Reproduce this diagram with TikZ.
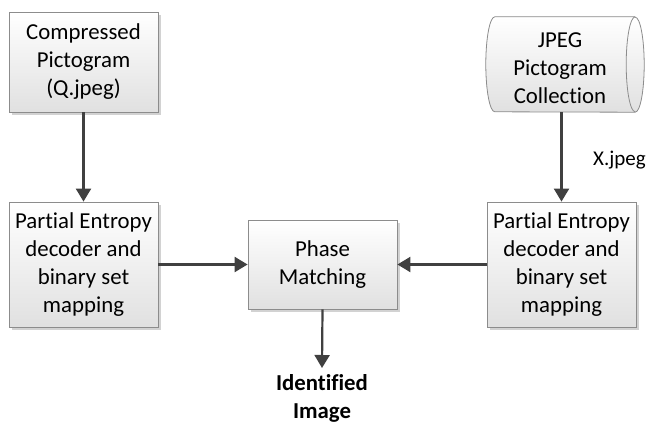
\documentclass[tikz,border=0pt]{standalone}
\usepackage{fontspec}
\setmainfont{Carlito}[Ligatures={NoCommon}]
\usetikzlibrary{arrows.meta,shadows}
\definecolor{edge}{HTML}{8C8C8C}
\definecolor{arrowc}{HTML}{404040}
\tikzset{
  boxnode/.style={rectangle, draw=edge, line width=0.8pt, top color=white, bottom color=black!12,
    drop shadow={shadow xshift=3pt, shadow yshift=-3pt, fill=black!25, opacity=0.7},
    align=center, inner sep=0pt, font=\fontsize{22.8}{28}\selectfont},
  arr/.style={draw=arrowc, line width=2.2pt, -{Triangle[length=13pt,width=15pt]}},
  plain/.style={align=center, inner sep=0pt, font=\fontsize{22.8}{28}\selectfont}
}
\begin{document}
\begin{tikzpicture}[x=1pt,y=-1pt]
\useasboundingbox (0,0) rectangle (649,423);
\node[boxnode, minimum width=149pt, minimum height=100pt] (cp) at (83.5,62) {Compressed\\Pictogram\\(Q.jpeg)};
\node[boxnode, minimum width=149pt, minimum height=125pt] (pe1) at (83.5,264.5) {Partial Entropy\\decoder and\\binary set\\mapping};
\node[boxnode, minimum width=149pt, minimum height=89pt] (pm) at (322.5,264.5) {Phase\\Matching};
\node[boxnode, minimum width=149pt, minimum height=125pt] (pe2) at (561.5,264.5) {Partial Entropy\\decoder and\\binary set\\mapping};
% cylinder
\node[rectangle, draw=none, minimum width=140pt, minimum height=95pt, inner sep=0pt] (db) at (565,64.5) {};
\fill[black!25, opacity=0.7, xshift=3pt, yshift=-3pt] (db.north east) -- (db.north west) arc[start angle=270, end angle=90, x radius=9, y radius=47.5] -- (db.south east) arc[start angle=90, end angle=-90, x radius=9, y radius=47.5] -- cycle;
\path[top color=white, bottom color=black!12] (db.north east) -- (db.north west) arc[start angle=270, end angle=90, x radius=9, y radius=47.5] -- (db.south east) arc[start angle=90, end angle=-90, x radius=9, y radius=47.5] -- cycle;
\draw[edge, line width=0.8pt] (db.north east) -- (db.north west) arc[start angle=270, end angle=90, x radius=9, y radius=47.5] -- (db.south east) arc[start angle=90, end angle=-90, x radius=9, y radius=47.5];
\draw[edge, line width=0.8pt] (db.north east) arc[start angle=270, end angle=90, x radius=9, y radius=47.5];
\node[plain] (dbt) at (560,68) {JPEG\\Pictogram\\Collection};
% connectors
\draw[arr] (cp.south) -- (pe1.north);
\draw[arr] (pe2.north |- db.south) -- (pe2.north);
\draw[arr] (pe1.east) -- (pm.west);
\draw[arr] (pe2.west) -- (pm.east);
\node[plain, font=\fontsize{22.8}{28}\selectfont\bfseries] (out) at (322,398) {Identified\\Image};
\coordinate (outtop) at (322,368);
\draw[arr] (pm.south) -- (outtop);
\node[plain, anchor=base west, font=\fontsize{21}{25}\selectfont] (xl) at (593,165) {X.jpeg};
\end{tikzpicture}
\end{document}
